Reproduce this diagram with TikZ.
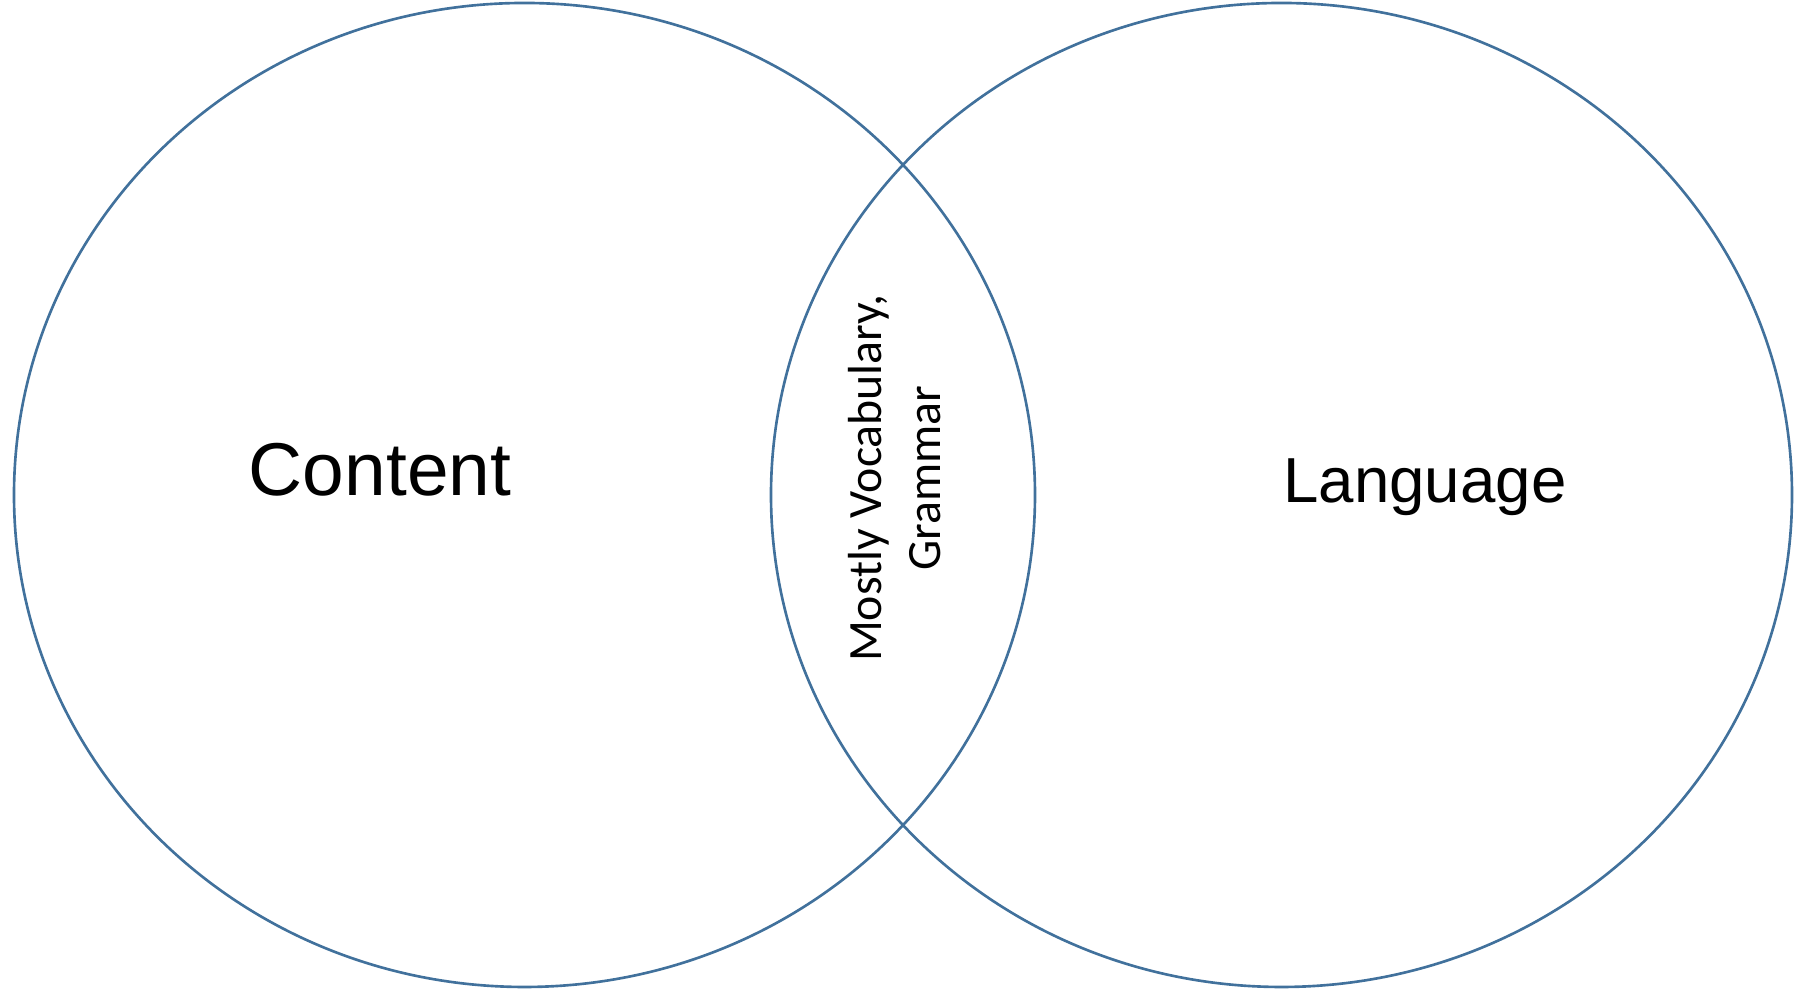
\documentclass[tikz,border=0pt]{standalone}
\usepackage{fontspec}
\setmainfont{Liberation Sans}
\newfontfamily\calibrifont{Carlito}
\usetikzlibrary{shapes.geometric,positioning}
\definecolor{setblue}{RGB}{65,113,156}

\begin{document}
\begin{tikzpicture}[on grid,node distance=7.57cm,
    set/.style={ellipse,draw=setblue,line width=0.75pt,inner sep=0pt,
                minimum width=10.21cm,minimum height=9.84cm}]
                    \useasboundingbox (0,0) rectangle (17.97,9.94);
                    \node[set] (content) at (5.245,4.99) {};
                    \node[set] (language) [right=of content] {};
                    \node[anchor=base,font=\fontsize{21.3}{25}\selectfont] (contentlbl) at (3.80,4.98) {Content};
                    \node[anchor=base,font=\fontsize{18.1}{21}\selectfont] (languagelbl) at (14.25,4.91) {Language};
                    \node[rotate=90,align=center,font=\calibrifont\fontsize{13.6}{16.8}\selectfont] (overlap) at (8.95,5.16) {Mostly Vocabulary,\\Grammar};
                \end{tikzpicture}
\end{document}
